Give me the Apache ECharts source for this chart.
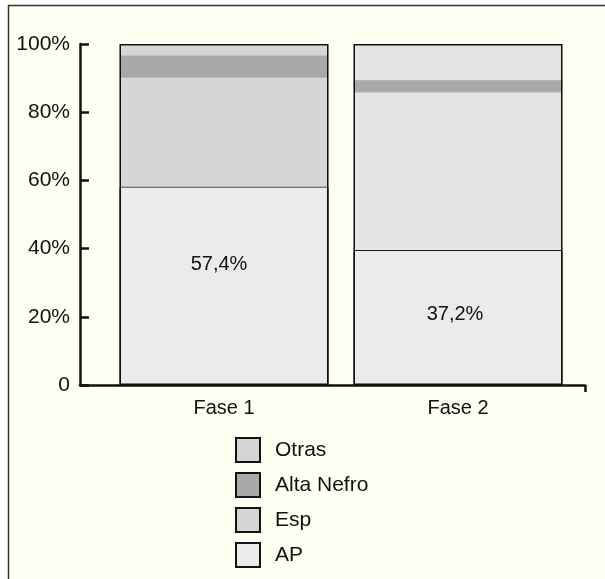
<!DOCTYPE html>
<html>
<head>
<meta charset="utf-8">
<title>Fase 1 / Fase 2</title>
<script src="https://cdn.jsdelivr.net/npm/echarts@6/dist/echarts.min.js"></script>
<style>
  html, body { margin: 0; height: 100%; background: #ffffff; }
  #main { width: 605px; height: 579px; }
</style>
</head>
<body>
<div id="main"></div>
<script>
// datos (porcentaje de cada grupo por fase)
var categories = ['Fase 1', 'Fase 2'];
var ap = [58.2, 39.6];
var esp = [31.7, 46.1];
var altaNefro = [6.9, 3.9];
var otras = [3.2, 10.4];
var apLabels = ['57,4%', '37,2%'];
var yTicks = [0, 20, 40, 60, 80, 100];

var FONT = 'Liberation Sans, Arial, Helvetica, sans-serif';
var chart = echarts.init(document.getElementById('main'));

function seg(values, colors) {
  return values.map(function (v, i) {
    return { value: v, itemStyle: { color: colors[i] } };
  });
}

var apData = ap.map(function (v, i) {
  return {
    value: v,
    label: {
      show: true,
      formatter: apLabels[i],
      offset: i === 0 ? [-5, -21] : [-3, -3]
    }
  };
});

var option = {
  animation: false,
  graphic: [{
    type: 'rect',
    z: -10,
    shape: { x: 8.5, y: 5.5, width: 640, height: 620 },
    style: { fill: '#fffff3', stroke: '#333', lineWidth: 1.5 }
  }],
  textStyle: { fontFamily: FONT },
  grid: [
    { left: 107, right: 30, top: 44, bottom: 194 },
    { left: 80, right: 20, top: 44, bottom: 194 }
  ],
  legend: {
    orient: 'vertical',
    left: 235,
    top: 437,
    padding: 0,
    icon: 'rect',
    itemWidth: 24,
    itemHeight: 24,
    itemGap: 9,
    data: ['Otras', 'Alta Nefro', 'Esp', 'AP'],
    itemStyle: { borderColor: '#111', borderWidth: 2 },
    textStyle: { fontSize: 21, color: '#111', fontFamily: FONT, padding: [0, 0, 0, 10] },
    selectedMode: false
  },
  xAxis: [{
    gridIndex: 0,
    type: 'category',
    data: categories,
    axisLine: { show: false },
    axisTick: { show: false },
    axisLabel: { fontSize: 20, color: '#111', margin: 13 }
  }, {
    gridIndex: 1,
    type: 'value',
    min: 0,
    max: 1,
    axisLine: { show: true, lineStyle: { color: '#111', width: 2.5 } },
    axisTick: { show: true, customValues: [1], length: 7, lineStyle: { color: '#111', width: 2.5 } },
    axisLabel: { show: false },
    splitLine: { show: false }
  }],
  yAxis: [{
    gridIndex: 0,
    type: 'value',
    min: 0,
    max: 100,
    interval: 20,
    offset: 27,
    axisLine: { show: true, lineStyle: { color: '#111', width: 2.5 } },
    axisTick: { show: true, inside: true, length: 9, lineStyle: { color: '#111', width: 2.5 } },
    axisLabel: {
      fontSize: 21, color: '#111', margin: 10,
      formatter: function (v) { return yTicks.indexOf(v) < 0 ? '' : (v === 0 ? '0' : v + '%'); }
    },
    splitLine: { show: false }
  }, {
    gridIndex: 1,
    type: 'value',
    min: 0,
    max: 100,
    show: false
  }],
  series: [{
    name: 'AP',
    type: 'bar',
    stack: 'total',
    barWidth: 209,
    barGap: '-100%',
    itemStyle: { color: '#ebebe9', borderColor: '#111', borderWidth: 1 },
    label: { position: 'inside', fontSize: 20, color: '#111' },
    data: apData
  }, {
    name: 'Esp',
    type: 'bar',
    stack: 'total',
    barWidth: 209,
    barGap: '-100%',
    itemStyle: { color: '#d5d5d5', borderWidth: 0 },
    data: seg(esp, ['#d6d6d6', '#e4e4e4'])
  }, {
    name: 'Alta Nefro',
    type: 'bar',
    stack: 'total',
    barWidth: 209,
    barGap: '-100%',
    itemStyle: { color: '#a9a9a9', borderColor: '#c2c2c2', borderWidth: 1 },
    data: seg(altaNefro, ['#a9a9a9', '#a9a9a9'])
  }, {
    name: 'Otras',
    type: 'bar',
    stack: 'total',
    barWidth: 209,
    barGap: '-100%',
    itemStyle: { color: '#d5d5d5', borderWidth: 0 },
    data: seg(otras, ['#d6d6d6', '#e4e4e4'])
  }, {
    name: 'contorno',
    type: 'bar',
    barWidth: 209,
    barGap: '-100%',
    silent: true,
    itemStyle: { color: 'rgba(0,0,0,0)', borderColor: '#111', borderWidth: 1.5 },
    data: ap.map(function (v, i) { return v + esp[i] + altaNefro[i] + otras[i]; })
  }]
};

chart.setOption(option);
</script>
</body>
</html>
